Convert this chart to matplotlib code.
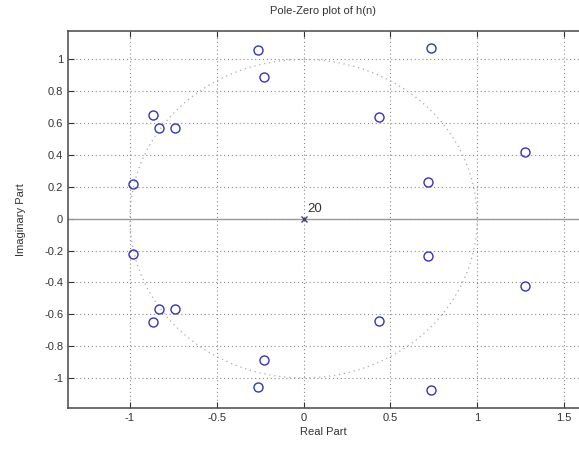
import numpy as np
import matplotlib
matplotlib.use("Agg")
import matplotlib.pyplot as plt

# zeros of h(n) (real, imag)
zero_re = [-0.26, -0.225, -0.87, -0.83, -0.74, -0.98,
           -0.98, -0.83, -0.74, -0.87, -0.225, -0.26,
           0.734, 0.434, 1.277, 0.717,
           0.717, 0.434, 1.277, 0.734]
zero_im = [1.06, 0.89, 0.65, 0.57, 0.57, 0.22,
           -0.22, -0.57, -0.57, -0.65, -0.89, -1.06,
           1.075, 0.64, 0.42, 0.233,
           -0.233, -0.64, -0.42, -1.075]
pole_re = [0.0]
pole_im = [0.0]
pole_mult = "20"

xticks = [-1, -0.5, 0, 0.5, 1, 1.5]
xticklabels = ["-1", "-0.5", "0", "0.5", "1", "1.5"]
yticks = [1, 0.8, 0.6, 0.4, 0.2, 0, -0.2, -0.4, -0.6, -0.8, -1]
yticklabels = ["1", "0.8", "0.6", "0.4", "0.2", "0", "-0.2", "-0.4", "-0.6", "-0.8", "-1"]

plt.rcParams['font.family'] = ['Liberation Sans', 'DejaVu Sans']
fig = plt.figure(figsize=(5.79, 4.55), dpi=100)
ax = fig.add_axes([68/579, 47/455, 1 - 68/579, 377/455])

ax.set_xlim(-1.357, 1.587)
ax.set_ylim(-1.189, 1.179)

# unit circle
t = np.linspace(0, 2*np.pi, 400)
ax.plot(np.cos(t), np.sin(t), linestyle=(0, (1, 3)), color='#aaaaaa', lw=0.9, zorder=2)
# real axis line
ax.axhline(0, color='#999999', lw=1.0, zorder=1)

ax.grid(True, linestyle=(0, (1, 2.5)), color='#888888', lw=0.8)
ax.set_axisbelow(True)

ax.plot(zero_re, zero_im, linestyle='none', marker='o', markersize=6.5,
        markerfacecolor='none', markeredgecolor='#3535b5', markeredgewidth=1.0, zorder=3)
ax.plot(pole_re, pole_im, linestyle='none', marker='x', markersize=4,
        color='#404080', markeredgewidth=1.0, zorder=3)
ax.text(pole_re[0] + 0.02, pole_im[0] + 0.025, pole_mult, fontsize=9.5, color='#333333',
        ha='left', va='bottom')

ax.set_xticks(xticks)
ax.set_xticklabels(xticklabels)
ax.set_yticks(yticks)
ax.set_yticklabels(yticklabels)
ax.tick_params(direction='in', length=4, labelsize=8, colors='#333333', top=True)
for s in ['left', 'bottom', 'top']:
    ax.spines[s].set_color('#555555')
    ax.spines[s].set_linewidth(1.2)
ax.spines['right'].set_visible(False)

ax.set_xlabel("Real Part", fontsize=8, color='#333333', labelpad=3)
ax.set_ylabel("Imaginary Part", fontsize=8, color='#333333', labelpad=13)
ax.set_title("Pole-Zero plot of h(n)", fontsize=8, color='#333333', pad=12)

fig.savefig("out.png", dpi=100)
